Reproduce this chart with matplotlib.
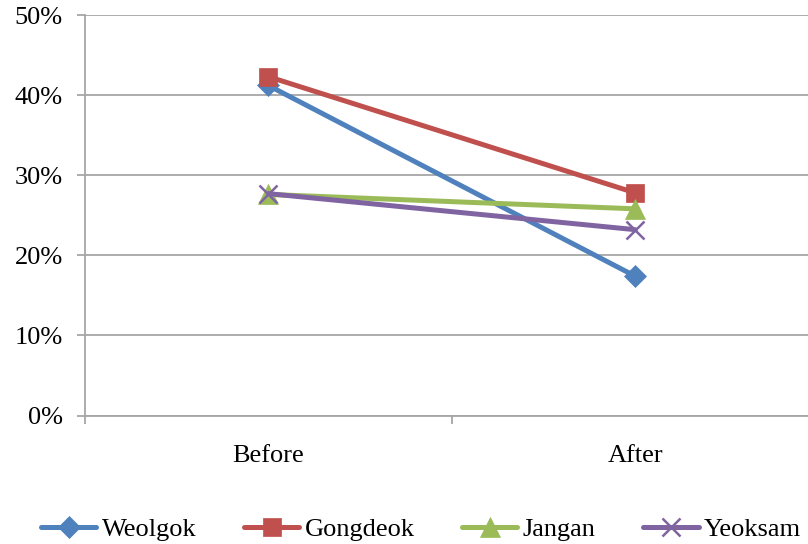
import numpy as np
import matplotlib.pyplot as plt
from matplotlib.ticker import FixedLocator, PercentFormatter

periods = ['Before', 'After']
weolgok = [41.2, 17.4]
gongdeok = [42.3, 27.8]
jangan = [27.6, 25.8]
yeoksam = [27.7, 23.2]

names = ['Weolgok', 'Gongdeok', 'Jangan', 'Yeoksam']
colors = ['#4F81BD', '#C0504D', '#9BBB59', '#8064A2']
markers = ['D', 's', '^', 'x']
msizes = [11, 13, 14, 13]

plt.rcParams['font.family'] = ['Liberation Serif', 'DejaVu Serif']
grid_col = '#A6A6A6'
fs = 19

fig = plt.figure(figsize=(8.08, 5.44), dpi=100)
W, H = 808.0, 544.0
# plot area: left edge x=85, bottom y=415, top y=15; right edge runs past the figure
ax = fig.add_axes([85 / W, 1 - 415.5 / H, 733.5 / W, 400.5 / H])

x = np.arange(len(periods))
for vals, name, c, m, ms in zip([weolgok, gongdeok, jangan, yeoksam], names, colors, markers, msizes):
    ax.plot(x, vals, color=c, lw=3.6, marker=m, markersize=ms,
            markeredgecolor=c, markeredgewidth=1.8 if m == 'x' else 0.5,
            solid_capstyle='round', label=name, zorder=3)

ax.set_xlim(-0.5, 1.5)
ax.set_ylim(0, 50)
ax.yaxis.set_major_locator(FixedLocator([0, 10, 20, 30, 40, 50]))
ax.yaxis.set_major_formatter(PercentFormatter(decimals=0))
ax.grid(axis='y', color=grid_col, lw=1.3, zorder=0)

ax.set_xticks(x)
ax.set_xticklabels(periods)
ax.xaxis.set_minor_locator(FixedLocator([-0.5, 0.5, 1.5]))
ax.tick_params(axis='x', which='major', length=0, pad=21, labelsize=fs)
ax.tick_params(axis='x', which='minor', length=6, width=1.3, color=grid_col, direction='out')
ax.tick_params(axis='y', length=6, width=1.3, color=grid_col, pad=10, labelsize=fs)

for s in ['top', 'right']:
    ax.spines[s].set_visible(False)
for s in ['left', 'bottom']:
    ax.spines[s].set_color(grid_col)
    ax.spines[s].set_linewidth(1.3)

fig.legend(loc='center', bbox_to_anchor=(421 / W, 1 - 529 / H), ncol=4,
           frameon=False, fontsize=fs, handlelength=2.1, handletextpad=0.2,
           columnspacing=1.8)

fig.savefig('out.png', dpi=100)
